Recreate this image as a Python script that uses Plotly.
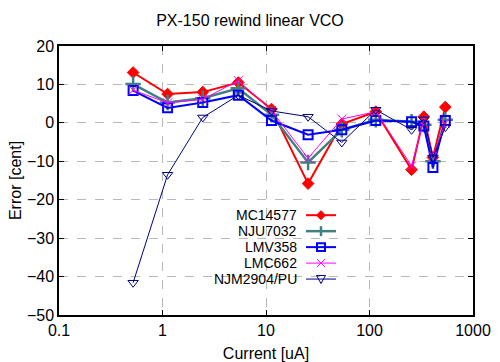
import plotly.graph_objects as go

current = [0.52, 1.12, 2.45, 5.4, 11.3, 25.5, 54, 115, 255, 335, 410, 540]
mc14577 = [13.1, 7.5, 8.0, 10.5, 3.6, -15.8, -0.3, 2.9, -12.2, 1.6, -9.0, 4.1]
nju7032 = [10.1, 5.3, 6.4, 9.0, 2.1, -10.3, -1.8, 0.8, 0.3, -0.5, -10.0, 0.8]
lmv358 = [8.4, 3.9, 5.3, 7.2, 0.6, -3.1, -1.8, 0.6, 0.3, -0.8, -11.6, 0.6]
lmc662 = [8.5, 5.2, 6.1, 11.0, 3.2, -9.2, 1.0, 2.9, -11.2, 0.8, -8.7, -0.1]
njm2904 = [-41.6, -13.5, 1.4, 7.2, 3.1, 1.6, -5.1, 3.4, -1.8, 0.9, -9.0, -1.1]

names = ["MC14577", "NJU7032", "LMV358", "LMC662", "NJM2904/PU"]
series = [mc14577, nju7032, lmv358, lmc662, njm2904]
colors = ["#ff0000", "#408080", "#0000ff", "#ff00ff", "#000080"]
widths = [2, 2.5, 2, 1, 1]
symbols = ["diamond", "cross-thin-open", "square-open", "x-thin-open", "triangle-down-open"]
msizes = [9, 11, 9, 9, 9]
mlw = [1, 2.5, 2, 1, 1]

FONT = "Liberation Sans, Arial, sans-serif"

fig = go.Figure()
for n, s, c, w, sym, ms, lw in zip(names, series, colors, widths, symbols, msizes, mlw):
    fig.add_trace(go.Scatter(
        x=current, y=s, name=n, mode="lines+markers",
        line=dict(color=c, width=w),
        marker=dict(symbol=sym, size=ms, color=c, line=dict(color=c, width=lw)),
        showlegend=False,
    ))

# manual gnuplot-style legend (text right, sample on right)
L, R, T, B = 59, 473, 45.5, 315
def px(x):
    return (x - L) / (R - L)
def py(y):
    return (B - y) / (B - T)

shapes = []
annotations = []
rows = [215, 231, 247, 263, 279]
for i, (n, c, w) in enumerate(zip(names, colors, widths)):
    yy = rows[i]
    annotations.append(dict(
        x=px(299), y=py(yy), xref="paper", yref="paper", text=n,
        showarrow=False, xanchor="right", yanchor="middle",
        font=dict(family=FONT, size=14, color="black"),
    ))
    shapes.append(dict(type="line", xref="paper", yref="paper",
                       x0=px(306), x1=px(336), y0=py(yy), y1=py(yy),
                       line=dict(color=c, width=w)))
    cx, cy = 321, yy
    if i == 0:
        d = 4.5
        path = f"M {px(cx-d)} {py(cy)} L {px(cx)} {py(cy-d)} L {px(cx+d)} {py(cy)} L {px(cx)} {py(cy+d)} Z"
        shapes.append(dict(type="path", xref="paper", yref="paper", path=path,
                           fillcolor=c, line=dict(color=c, width=1)))
    elif i == 1:
        d = 5
        shapes.append(dict(type="line", xref="paper", yref="paper",
                           x0=px(cx), x1=px(cx), y0=py(cy-d), y1=py(cy+d),
                           line=dict(color=c, width=2.5)))
    elif i == 2:
        d = 4
        shapes.append(dict(type="rect", xref="paper", yref="paper",
                           x0=px(cx-d), x1=px(cx+d), y0=py(cy-d), y1=py(cy+d),
                           line=dict(color=c, width=2)))
    elif i == 3:
        d = 4
        shapes.append(dict(type="line", xref="paper", yref="paper",
                           x0=px(cx-d), x1=px(cx+d), y0=py(cy-d), y1=py(cy+d),
                           line=dict(color=c, width=1)))
        shapes.append(dict(type="line", xref="paper", yref="paper",
                           x0=px(cx-d), x1=px(cx+d), y0=py(cy+d), y1=py(cy-d),
                           line=dict(color=c, width=1)))
    else:
        d = 4.5
        path = f"M {px(cx-d)} {py(cy-d*0.8)} L {px(cx+d)} {py(cy-d*0.8)} L {px(cx)} {py(cy+d)} Z"
        shapes.append(dict(type="path", xref="paper", yref="paper", path=path,
                           line=dict(color=c, width=1)))

fig.update_layout(
    width=500, height=362,
    margin=dict(l=59, r=27, t=45.5, b=47),
    paper_bgcolor="white", plot_bgcolor="white",
    font=dict(family=FONT, size=16, color="black"),
    title=dict(text="PX-150 rewind linear VCO", x=0.5, xanchor="center",
               y=1 - 20 / 362, yanchor="middle", font=dict(family=FONT, size=16, color="black")),
    shapes=shapes,
    annotations=annotations,
    xaxis=dict(
        type="log", range=[-1, 3], automargin=False,
        tickvals=[0.1, 1, 10, 100, 1000], ticktext=["0.1", "1", "10", "100", "1000"],
        showgrid=True, gridcolor="#b8b8b8", griddash="dash", gridwidth=1,
        showline=True, linecolor="black", linewidth=1.5, mirror="allticks",
        ticks="inside", ticklen=5, tickcolor="black",
        title=dict(text="Current [uA]", standoff=12, font=dict(size=16)),
        zeroline=False,
    ),
    yaxis=dict(
        range=[-50, 20], tickvals=list(range(-50, 21, 10)), automargin=False,
        showgrid=True, gridcolor="#b8b8b8", griddash="dash", gridwidth=1,
        showline=True, linecolor="black", linewidth=1.5, mirror="allticks",
        ticks="inside", ticklen=5, tickcolor="black",
        title=dict(text="Error [cent]", standoff=1, font=dict(size=16)),
        zeroline=False,
    ),
)

fig.write_html("out.html", config={"displayModeBar": False},
               post_script="document.body.style.margin='0px';")
